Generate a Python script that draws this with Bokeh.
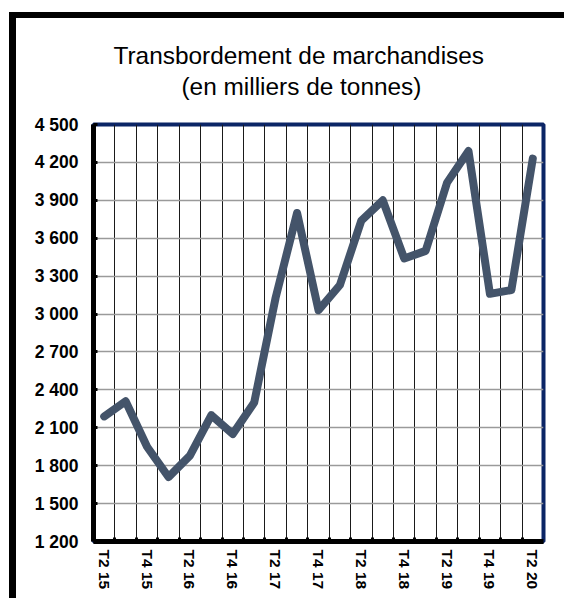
from bokeh.plotting import figure
from bokeh.models import FixedTicker, Title, Range1d
from bokeh.embed import file_html
from bokeh.resources import INLINE

# ---- data ----
quarters = ["T2 15", "T3 15", "T4 15", "T1 16", "T2 16", "T3 16", "T4 16",
            "T1 17", "T2 17", "T3 17", "T4 17", "T1 18", "T2 18", "T3 18",
            "T4 18", "T1 19", "T2 19", "T3 19", "T4 19", "T1 20", "T2 20"]
values = [2190, 2310, 1950, 1710, 1880, 2200, 2050, 2300, 3130, 3800, 3030,
          3230, 3740, 3900, 3440, 3500, 4040, 4290, 3160, 3190, 4230]
x_labels = ["T2 15", "T4 15", "T2 16", "T4 16", "T2 17", "T4 17",
            "T2 18", "T4 18", "T2 19", "T4 19", "T2 20"]
y_ticks = [1200, 1500, 1800, 2100, 2400, 2700, 3000, 3300, 3600, 3900, 4200, 4500]
y_labels = ["1 200", "1 500", "1 800", "2 100", "2 400", "2 700", "3 000",
            "3 300", "3 600", "3 900", "4 200", "4 500"]
title_1 = "Transbordement de marchandises"
title_2 = "(en milliers de tonnes)"

# category i is centred at 2*i+1, boundaries at even numbers
n = len(quarters)
xs = [2 * i + 1 for i in range(n)]
label_pos = [2 * quarters.index(q) + 1 for q in x_labels]
boundaries = [2 * i for i in range(1, n)]

p = figure(width=555, height=586, output_backend="svg", toolbar_location=None,
           x_range=Range1d(0, 2 * n), y_range=Range1d(y_ticks[0], y_ticks[-1]),
           min_border_left=77, min_border_right=28, min_border_top=106,
           min_border_bottom=63)
p.styles = {"border-top": "6px solid black", "border-left": "7px solid black",
            "margin-top": "12px", "margin-left": "9px"}

# spacer between the subtitle and the plot frame
p.add_layout(Title(text=" ", text_font="Liberation Sans",
                   text_font_size="18px", standoff=2), "above")
p.add_layout(Title(text=title_2, align="left",
                   text_font="Liberation Sans",
                   text_font_size="24.4px", text_font_style="normal",
                   text_color="black", offset=88, standoff=2), "above")
p.add_layout(Title(text=title_1, align="left",
                   text_font="Liberation Sans",
                   text_font_size="24.4px", text_font_style="normal",
                   text_color="black", offset=20, standoff=2), "above")

p.line(xs, values, line_color="#44546A", line_width=8,
       line_join="round", line_cap="round")

# outline (top/right navy)
p.outline_line_color = "#0B2566"
p.outline_line_width = 4

# grids
p.xgrid.ticker = FixedTicker(ticks=boundaries)
p.xgrid.grid_line_color = "#1a1a1a"
p.xgrid.grid_line_width = 1
p.ygrid.ticker = FixedTicker(ticks=y_ticks)
p.ygrid.grid_line_color = "#9a9a9a"
p.ygrid.grid_line_width = 1.5

# x axis
p.xaxis.ticker = FixedTicker(ticks=label_pos, minor_ticks=boundaries)
p.xaxis.major_label_overrides = {pos: lab for pos, lab in zip(label_pos, x_labels)}
p.xaxis.major_label_orientation = "vertical"
p.xaxis.major_tick_in = 0
p.xaxis.major_tick_out = 0
p.xaxis.minor_tick_in = 4
p.xaxis.minor_tick_out = 0
p.xaxis.minor_tick_line_width = 3
p.xaxis.minor_tick_line_color = "black"
p.xaxis.major_label_standoff = 8
p.xaxis.major_label_text_font = "Liberation Sans"
p.xaxis.major_label_text_font_style = "bold"
p.xaxis.major_label_text_font_size = "15.5px"
p.xaxis.major_label_text_color = "black"
p.xaxis.axis_line_color = "black"
p.xaxis.axis_line_width = 5

# y axis
p.yaxis.ticker = FixedTicker(ticks=y_ticks)
p.yaxis.major_label_overrides = {t: lab for t, lab in zip(y_ticks, y_labels)}
p.yaxis.major_tick_in = 4
p.yaxis.major_tick_out = 0
p.yaxis.major_tick_line_width = 3
p.yaxis.major_tick_line_color = "black"
p.yaxis.minor_tick_line_color = None
p.yaxis.major_label_standoff = 15
p.yaxis.major_label_text_font = "Liberation Sans"
p.yaxis.major_label_text_font_style = "bold"
p.yaxis.major_label_text_font_size = "17.5px"
p.yaxis.major_label_text_color = "black"
p.yaxis.axis_line_color = "black"
p.yaxis.axis_line_width = 5

p.background_fill_color = "white"
p.border_fill_color = "white"

open("out.html", "w").write(file_html(p, INLINE))
